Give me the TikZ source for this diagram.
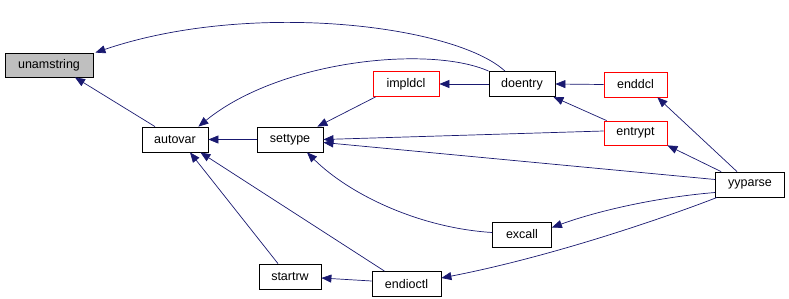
\documentclass[tikz,border=0pt]{standalone}
\usepackage{fontspec}
\setmainfont{Liberation Sans}
\usetikzlibrary{arrows.meta}

\definecolor{edgeblue}{HTML}{191970}
\definecolor{boxgrey}{HTML}{BFBFBF}

\begin{document}
\begin{tikzpicture}[
  x=1pt, y=-1pt,
  func/.style={rectangle, draw=black, line width=0.8pt, minimum height=25pt, inner sep=0pt},
  current/.style={func, fill=boxgrey},
  partial/.style={func, draw=red},
  call/.style={draw=edgeblue, line width=0.7pt, -{Triangle[length=10pt, width=8pt]}},
  every node/.style={font=\fontsize{12.5}{14}\selectfont}
]
\useasboundingbox (0,0) rectangle (789,299);

% Functions
\node[current, minimum width=88pt, minimum height=24pt] (unamstring) at (49,65) {unamstring};
\node[func, minimum width=66pt] (autovar) at (175,139.5) {autovar};
\node[func, minimum width=66pt] (settype) at (290,139.5) {settype};
\node[partial, minimum width=66pt] (impldcl) at (406,84) {impldcl};
\node[func, minimum width=66pt] (doentry) at (522,84) {doentry};
\node[partial, minimum width=63pt] (enddcl) at (635.5,84.5) {enddcl};
\node[partial, minimum width=63pt, minimum height=24pt] (entrypt) at (635.5,133) {entrypt};
\node[func, minimum width=69pt] (yyparse) at (750,184.5) {yyparse};
\node[func, minimum width=59pt] (excall) at (522,234.5) {excall};
\node[func, minimum width=62pt] (startrw) at (290,276.5) {startrw};
\node[func, minimum width=69pt] (endioctl) at (406.5,284) {endioctl};

% Calls
\draw[call] ([xshift=-20pt]autovar.north) -- ([xshift=26pt]unamstring.south);
\draw[call] ([xshift=-17pt]doentry.north) .. controls (455,25) and (250,0) .. ([xshift=2pt]unamstring.north east);
\draw[call] (doentry.north west) .. controls (430,45) and (280,60) .. ([xshift=-10pt]autovar.north east);
\draw[call] (settype.west) -- (autovar.east);
\draw[call] ([xshift=3pt]impldcl.south west) -- ([xshift=-6pt]settype.north east);
\draw[call] ([yshift=2pt]entrypt.west) -- (settype.east);
\draw[call] ([yshift=5pt]yyparse.west) -- ([yshift=-3pt]settype.east);
\draw[call] ([yshift=2pt]excall.west) .. controls (420,228) and (350,195) .. ([xshift=17pt]settype.south);
\draw[call] (doentry.west) -- (impldcl.east);
\draw[call] (enddcl.west) -- (doentry.east);
\draw[call] ([xshift=3pt]entrypt.north west) -- ([xshift=-2pt]doentry.south east);
\draw[call] ([xshift=-13pt]yyparse.north) -- ([xshift=-10pt]enddcl.south east);
\draw[call] ([xshift=6pt]yyparse.north west) -- (entrypt.south east);
\draw[call] ([yshift=-8pt]yyparse.west) .. controls (660,197) and (600,210) .. ([yshift=7pt]excall.east);
\draw[call] ([xshift=2pt]yyparse.south west) .. controls (680,212) and (560,255) .. ([yshift=6pt]endioctl.east);
\draw[call] ([xshift=-22pt]endioctl.north) -- ([xshift=-8pt]autovar.south east);
\draw[call] ([xshift=-12pt]startrw.north) -- ([xshift=15pt]autovar.south);
\draw[call] ([yshift=3pt]endioctl.west) -- ([yshift=-1.5pt]startrw.east);

\end{tikzpicture}
\end{document}
